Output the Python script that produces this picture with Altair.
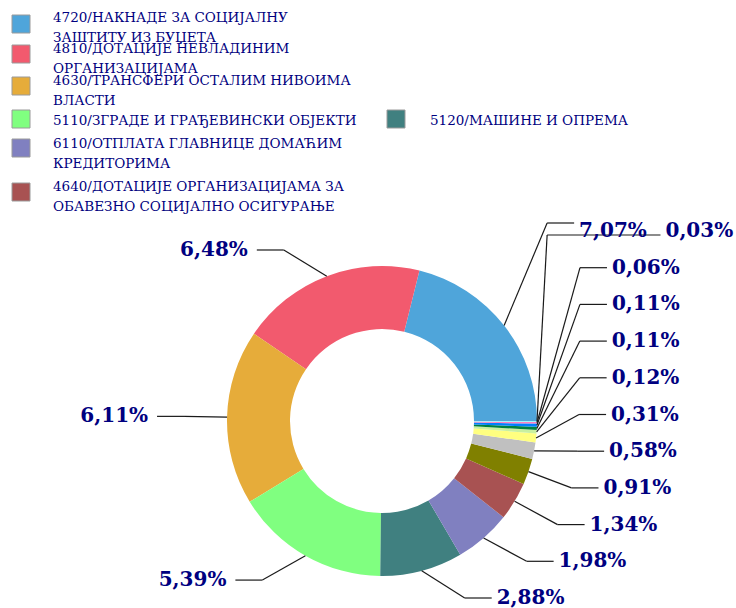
import math
import altair as alt
import pandas as pd

# ---------------- data ----------------
SLICE_IDS = ["4720", "4810", "4630", "5110", "5120", "6110", "4640",
             "other-08", "other-09", "other-10", "other-11", "other-12",
             "other-13", "other-14", "other-15"]
VALUES = [7.07, 6.48, 6.11, 5.39, 2.88, 1.98, 1.34, 0.91, 0.58, 0.31,
          0.12, 0.11, 0.11, 0.06, 0.03]
COLORS = ["#4FA5DA", "#F25A6E", "#E6AC3A", "#80FF80", "#408080", "#8080C0",
          "#A85252", "#808000", "#C0C0C0", "#FFFF80", "#C8F0A0", "#008040",
          "#0080FF", "#FF80C0", "#80FFFF"]
LEGEND_LABELS = [
    "4720/НАКНАДЕ ЗА СОЦИЈАЛНУ\nЗАШТИТУ ИЗ БУЏЕТА",
    "4810/ДОТАЦИЈЕ НЕВЛАДИНИМ\nОРГАНИЗАЦИЈАМА",
    "4630/ТРАНСФЕРИ ОСТАЛИМ НИВОИМА\nВЛАСТИ",
    "5110/ЗГРАДЕ И ГРАЂЕВИНСКИ ОБЈЕКТИ",
    "5120/МАШИНЕ И ОПРЕМА",
    "6110/ОТПЛАТА ГЛАВНИЦЕ ДОМАЋИМ\nКРЕДИТОРИМА",
    "4640/ДОТАЦИЈЕ ОРГАНИЗАЦИЈАМА ЗА\nОБАВЕЗНО СОЦИЈАЛНО ОСИГУРАЊЕ",
]

# ---------------- layout (not data) ----------------
W, H = 736, 608
CX, CY, R_OUT, R_IN = 382, 421, 155, 92
R_LAB = 183
ELBOW, TAIL, GAP_R, GAP_L = 43, 27, 5, 9
ROW, TOP = 36.7, 231
FS = 20
NAVY = "#000080"
LBL_FONT = "DejaVu Serif"
LEG_FONT = "DejaVu Serif"
LEG_FS = 13.5
# legend: square top y, first text-line y, x of square, x of text
LEG_SQ_Y = [15, 45, 77, 110, 110, 139, 183]
LEG_TX_Y = [18, 49, 81, 120.5, 120.5, 144, 187]
LEG_SQ_X = [12, 12, 12, 12, 387, 12, 12]
LEG_TX_X = [53, 53, 53, 53, 430, 53, 53]
LEG_LINE = 19.5
SQ = 18


def fmt(v):
    return f"{v:.2f}".replace(".", ",") + "%"


def text_w(s):
    w = 0.0
    for ch in s:
        if ch.isdigit():
            w += 0.696
        elif ch == ",":
            w += 0.38
        elif ch == "%":
            w += 1.0
        else:
            w += 0.6
    return w * FS


n = len(VALUES)
total = sum(VALUES)
# slices are drawn clockwise from 3 o'clock, smallest first
order = list(range(n))[::-1]
slices = pd.DataFrame({
    "id": SLICE_IDS,
    "value": VALUES,
    "k": [order.index(i) for i in range(n)],
})

info = {}
cum = 0.0
for i in order:
    v = VALUES[i]
    mid = math.pi / 2 + 2 * math.pi * (cum + v / 2) / total
    cum += v
    info[i] = dict(
        ax=CX + R_OUT * math.sin(mid),
        ay=CY - R_OUT * math.cos(mid),
        side="R" if math.sin(mid) > 0 else "L",
        ly=CY - R_LAB * math.cos(mid),
    )

# collision resolution on the right side
right = sorted([i for i in info if info[i]["side"] == "R"], key=lambda i: info[i]["ly"])
ys = [info[i]["ly"] for i in right]
for j in range(len(ys) - 2, -1, -1):
    ys[j] = min(ys[j], ys[j + 1] - ROW)
clamped = [y < TOP for y in ys]
ys = [max(y, TOP) for y in ys]
for j in range(1, len(ys)):
    if not clamped[j]:
        ys[j] = max(ys[j], ys[j - 1] + ROW)
for j, i in enumerate(right):
    info[i]["ty"] = ys[j]
    info[i]["shared"] = clamped[j] and j > 0

segs, labels = [], []
prev = None
for j, i in enumerate(right):
    d = info[i]
    txt = fmt(VALUES[i])
    if d["shared"]:
        p = info[prev]
        ly = d["ty"] + 4
        p_line = p["ty"] - 8
        # re-route previous label's line slightly above
        segs[-2]["y2"] = p_line
        segs[-1]["y"] = p_line
        segs[-1]["y2"] = p_line
        bx = p["bx"]
        cx = p["tx"] + text_w(fmt(VALUES[prev])) + 12
    else:
        ly = d["ty"]
        bx = d["ax"] + ELBOW
        cx = bx + TAIL
    d["bx"] = bx
    d["tx"] = cx + GAP_R
    segs.append(dict(x=d["ax"], y=d["ay"], x2=bx, y2=ly))
    segs.append(dict(x=bx, y=ly, x2=cx, y2=ly))
    labels.append(dict(x=d["tx"], y=d["ty"], t=txt, side="R"))
    prev = i

for i in info:
    d = info[i]
    if d["side"] != "L":
        continue
    ly = d["ly"]
    bx = d["ax"] - ELBOW
    cx = bx - TAIL
    segs.append(dict(x=d["ax"], y=d["ay"], x2=bx, y2=ly))
    segs.append(dict(x=bx, y=ly, x2=cx, y2=ly))
    labels.append(dict(x=cx - GAP_L, y=ly, t=fmt(VALUES[i]), side="L"))

segs = pd.DataFrame(segs)
labels = pd.DataFrame(labels)

leg_sq, leg_tx = [], []
for j, lab in enumerate(LEGEND_LABELS):
    leg_sq.append(dict(x=LEG_SQ_X[j], x2=LEG_SQ_X[j] + SQ, y=LEG_SQ_Y[j],
                       y2=LEG_SQ_Y[j] + SQ, id=SLICE_IDS[j]))
    for m, line in enumerate(lab.split("\n")):
        leg_tx.append(dict(x=LEG_TX_X[j], y=LEG_TX_Y[j] + m * LEG_LINE, t=line))
leg_sq = pd.DataFrame(leg_sq)
leg_tx = pd.DataFrame(leg_tx)

color_scale = alt.Scale(domain=SLICE_IDS, range=COLORS)
px = dict(scale=None, axis=None)

arc = alt.Chart(slices).mark_arc(innerRadius=R_IN, outerRadius=R_OUT).encode(
    theta=alt.Theta("value:Q", stack=True,
                    scale=alt.Scale(range=[math.pi / 2, math.pi / 2 + 2 * math.pi])),
    order=alt.Order("k:Q"),
    color=alt.Color("id:N", scale=color_scale, legend=None),
    x=alt.value(CX),
    y=alt.value(CY),
)

rules = alt.Chart(segs).mark_rule(color="#1a1a1a", strokeWidth=1.2).encode(
    x=alt.X("x:Q", **px), y=alt.Y("y:Q", **px),
    x2="x2:Q", y2="y2:Q",
)

txt_r = alt.Chart(labels).transform_filter("datum.side == 'R'").mark_text(
    align="left", baseline="middle", font=LBL_FONT, fontSize=FS,
    fontWeight="bold", color=NAVY,
).encode(x=alt.X("x:Q", **px), y=alt.Y("y:Q", **px), text="t:N")

txt_l = alt.Chart(labels).transform_filter("datum.side == 'L'").mark_text(
    align="right", baseline="middle", font=LBL_FONT, fontSize=FS,
    fontWeight="bold", color=NAVY,
).encode(x=alt.X("x:Q", **px), y=alt.Y("y:Q", **px), text="t:N")

squares = alt.Chart(leg_sq).mark_rect(stroke="#9a9a9a", strokeWidth=1).encode(
    x=alt.X("x:Q", **px), x2="x2:Q", y=alt.Y("y:Q", **px), y2="y2:Q",
    color=alt.Color("id:N", scale=color_scale, legend=None),
)

leg_text = alt.Chart(leg_tx).mark_text(
    align="left", baseline="middle", font=LEG_FONT, fontSize=LEG_FS, color=NAVY,
).encode(x=alt.X("x:Q", **px), y=alt.Y("y:Q", **px), text="t:N")

chart = alt.layer(arc, rules, txt_r, txt_l, squares, leg_text).resolve_scale(
    color="shared"
).properties(
    width=W, height=H, padding=0, autosize=alt.AutoSizeParams(type="none"),
    background="white",
).configure_view(stroke=None)

chart.save("out.html", embed_options={"renderer": "svg", "actions": False})
